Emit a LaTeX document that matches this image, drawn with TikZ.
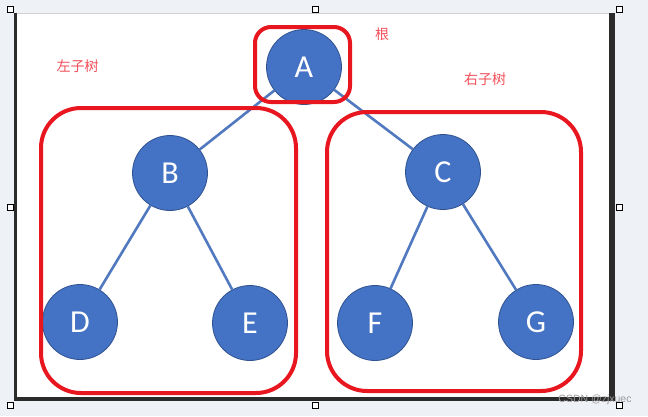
\documentclass[tikz,border=0pt]{standalone}
\usepackage{fontspec}
\newfontfamily\cjk{Noto Sans CJK SC}
\newfontfamily\letterfont{Carlito}
\newfontfamily\markfont{Liberation Sans}
\definecolor{nodeblue}{HTML}{4472C4}
\definecolor{nodeedge}{HTML}{2F528F}
\definecolor{linkblue}{HTML}{5179BF}
\definecolor{boxred}{HTML}{E8161F}
\definecolor{labelred}{HTML}{F2505A}
\definecolor{bgpale}{HTML}{EEF2F7}
\definecolor{framedark}{HTML}{2B2B2B}
\definecolor{markgray}{HTML}{999999}
\tikzset{
  treenode/.style={circle, minimum size=75pt, inner sep=0pt, fill=nodeblue, draw=nodeedge, line width=0.8pt, text=white, font=\letterfont\fontsize{32}{32}\selectfont},
  link/.style={draw=linkblue, line width=2.6pt},
  redbox/.style={draw=boxred, line width=4pt},
  cnlabel/.style={text=labelred, font=\cjk\fontsize{14}{14}\selectfont, inner sep=0pt},
  handle/.style={draw=black, fill=white, line width=1pt, minimum size=6pt, inner sep=0pt, rectangle}
}
\begin{document}
\begin{tikzpicture}[x=1pt,y=-1pt]
\useasboundingbox (0,0) rectangle (648,416);
\fill[bgpale] (0,0) rectangle (648,416);
\fill[white] (15,13) rectangle (612,398);
\draw[gray!35, line width=1pt] (15,13) -- (612,13);
\fill[framedark] (14,13) rectangle (17,400);
\fill[framedark] (609,13) rectangle (615,401);
\fill[framedark] (14,397) rectangle (615,401);

\node[treenode] (a) at (304,67) {A};
\node[treenode] (b) at (170,173) {B};
\node[treenode] (c) at (443,172) {C};
\node[treenode] (d) at (80,322) {D};
\node[treenode] (e) at (250,323) {E};
\node[treenode] (f) at (375,323) {F};
\node[treenode] (g) at (536,322) {G};

\path[link] (a) -- (b);
\path[link] (a) -- (c);
\path[link] (b) -- (d);
\path[link] (b) -- (e);
\path[link] (c) -- (f);
\path[link] (c) -- (g);

\draw[redbox, rounded corners=16pt] (255,27) rectangle (350,102);
\draw[redbox, rounded corners=40pt] (41,108) rectangle (296,393);
\draw[redbox, rounded corners=40pt] (327,112) rectangle (581,391);

\node[cnlabel] (root) at (382,34) {根};
\node[cnlabel] (left) at (77.5,66) {左子树};
\node[cnlabel] (right) at (485,79) {右子树};

\node[handle] (h1) at (10.5,9.5) {};
\node[handle] (h2) at (315,9.5) {};
\node[handle] (h3) at (619.5,9.5) {};
\node[handle] (h4) at (10.5,207.5) {};
\node[handle] (h5) at (619.5,207.5) {};
\node[handle] (h6) at (10.5,405) {};
\node[handle] (h7) at (315,405) {};
\node[handle] (h8) at (619,405) {};

\node[text=markgray, font=\markfont\fontsize{10.5}{11}\selectfont, inner sep=0pt] (mark) at (595,399.5) {CSDN @zjxuec};
\end{tikzpicture}
\end{document}
